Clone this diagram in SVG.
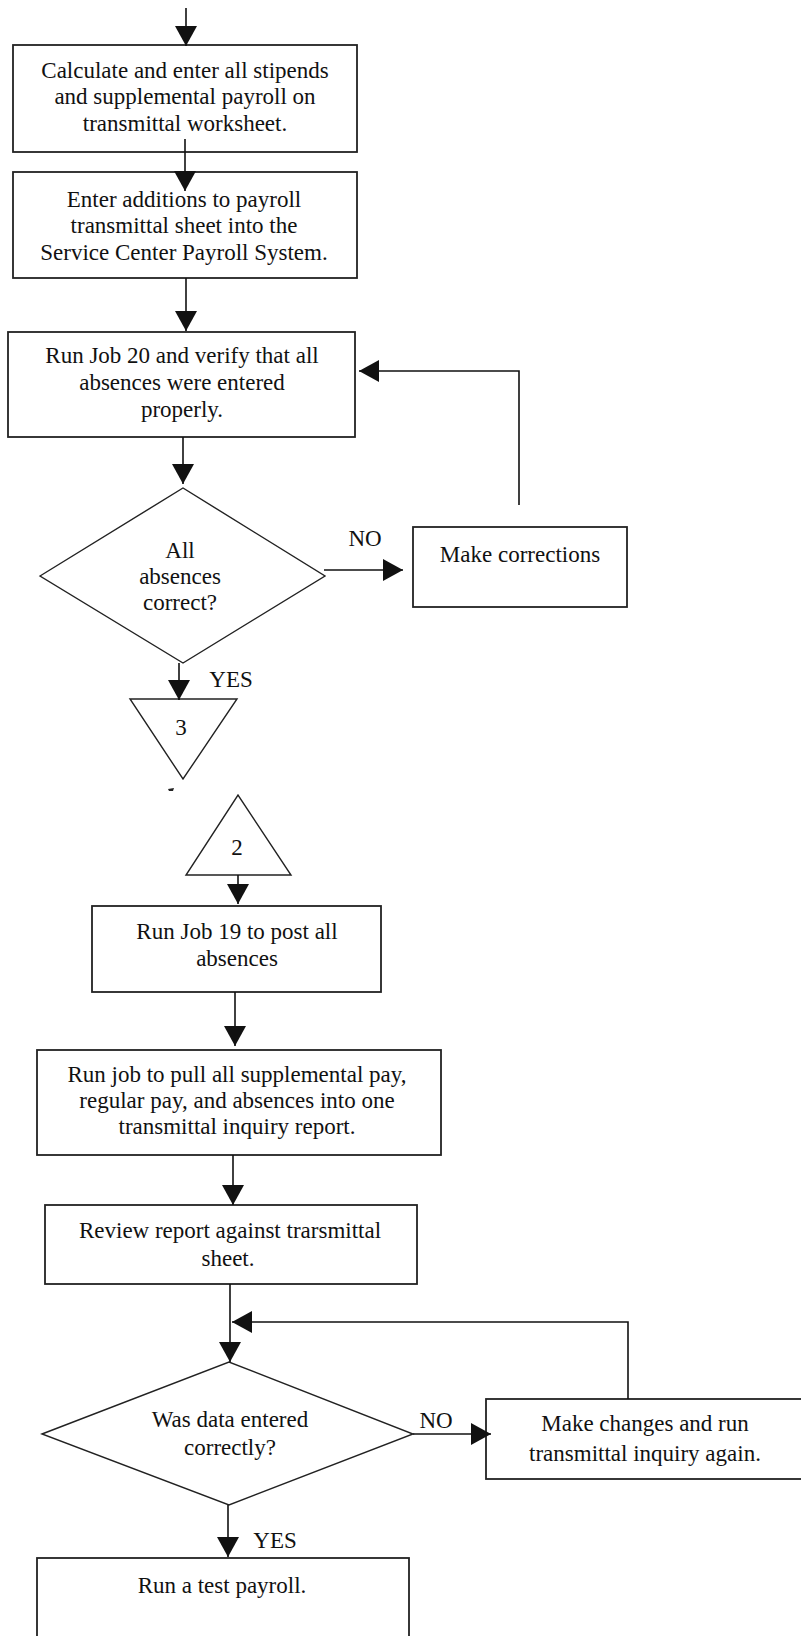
<svg xmlns="http://www.w3.org/2000/svg" width="801" height="1636" viewBox="0 0 801 1636">
  <style>
    .box { fill: #ffffff; stroke: #222222; stroke-width: 1.8; }
    .shape { fill: #ffffff; stroke: #222222; stroke-width: 1.4; }
    .flow { fill: none; stroke: #111111; stroke-width: 1.6; marker-end: url(#head); }
    text { font-family: "Liberation Serif", "Times New Roman", serif; font-size: 23px; fill: #111111; text-anchor: middle; }
  </style>
  <defs>
    <marker id="head" viewBox="0 0 20 22" refX="20" refY="11" markerWidth="20" markerHeight="22" markerUnits="userSpaceOnUse" orient="auto">
      <path d="M0,0 L20,11 L0,22 Z" fill="#111111"/>
    </marker>
  </defs>
  <rect width="801" height="1636" fill="#ffffff"/>

  <!-- process steps -->
  <g id="calc-stipends">
    <rect class="box" x="13" y="45" width="344" height="107"/>
    <text x="185" y="78">Calculate and enter all stipends</text>
    <text x="185" y="104">and supplemental payroll on</text>
    <text x="185" y="131">transmittal worksheet.</text>
  </g>
  <g id="enter-additions">
    <rect class="box" x="13" y="172" width="344" height="106"/>
    <text x="184" y="207">Enter additions to payroll</text>
    <text x="184" y="233">transmittal sheet into the</text>
    <text x="184" y="260">Service Center Payroll System.</text>
  </g>
  <g id="run-job-20">
    <rect class="box" x="8" y="332" width="347" height="105"/>
    <text x="182" y="363">Run Job 20 and verify that all</text>
    <text x="182" y="390">absences were entered</text>
    <text x="182" y="417">properly.</text>
  </g>
  <g id="absences-correct">
    <polygon class="shape" points="40,576 183,488 325,576 183,663"/>
    <text x="180" y="558">All</text>
    <text x="180" y="584">absences</text>
    <text x="180" y="610">correct?</text>
  </g>
  <g id="make-corrections">
    <rect class="box" x="413" y="527" width="214" height="80"/>
    <text x="520" y="562">Make corrections</text>
  </g>
  <g id="connector-3">
    <polygon class="shape" points="130,699 237,699 183,779"/>
    <text x="181" y="735">3</text>
  </g>
  <path d="M168,789 L174,788 L173,791 L169,791 Z" fill="#222222"/>
  <g id="connector-2">
    <polygon class="shape" points="186,875 291,875 238,795"/>
    <text x="237" y="855">2</text>
  </g>
  <g id="run-job-19">
    <rect class="box" x="92" y="906" width="289" height="86"/>
    <text x="237" y="939">Run Job 19 to post all</text>
    <text x="237" y="966">absences</text>
  </g>
  <g id="pull-report">
    <rect class="box" x="37" y="1050" width="404" height="105"/>
    <text x="237" y="1082">Run job to pull all supplemental pay,</text>
    <text x="237" y="1108">regular pay, and absences into one</text>
    <text x="237" y="1134">transmittal inquiry report.</text>
  </g>
  <g id="review-report">
    <rect class="box" x="45" y="1205" width="372" height="79"/>
    <text x="230" y="1238">Review report against trarsmittal</text>
    <text x="228" y="1266">sheet.</text>
  </g>
  <g id="data-correct">
    <polygon class="shape" points="42,1434 229,1362 413,1434 229,1505"/>
    <text x="230" y="1427">Was data entered</text>
    <text x="230" y="1455">correctly?</text>
  </g>
  <g id="make-changes">
    <rect class="box" x="486" y="1399" width="330" height="80"/>
    <text x="645" y="1431">Make changes and run</text>
    <text x="645" y="1461">transmittal inquiry again.</text>
  </g>
  <g id="test-payroll">
    <rect class="box" x="37" y="1558" width="372" height="100"/>
    <text x="222" y="1593">Run a test payroll.</text>
  </g>

  <!-- branch labels -->
  <g id="labels">
    <text x="365" y="546">NO</text>
    <text x="231" y="687">YES</text>
    <text x="436" y="1428">NO</text>
    <text x="275" y="1548">YES</text>
  </g>

  <!-- connectors -->
  <g id="connectors">
    <path class="flow" d="M186,8 V46"/>
    <path class="flow" d="M185,139 V191"/>
    <path class="flow" d="M186,278 V331"/>
    <path class="flow" d="M183,437 V484"/>
    <path class="flow" d="M519,505 V371 H359"/>
    <path class="flow" d="M324,570 H403"/>
    <path class="flow" d="M179,663 V700"/>
    <path class="flow" d="M238,875 V904"/>
    <path class="flow" d="M235,992 V1046"/>
    <path class="flow" d="M233,1155 V1205"/>
    <path class="flow" d="M230,1284 V1362"/>
    <path class="flow" d="M628,1399 V1322 H232"/>
    <path class="flow" d="M413,1434 H491"/>
    <path class="flow" d="M228,1505 V1557"/>
  </g>
</svg>
